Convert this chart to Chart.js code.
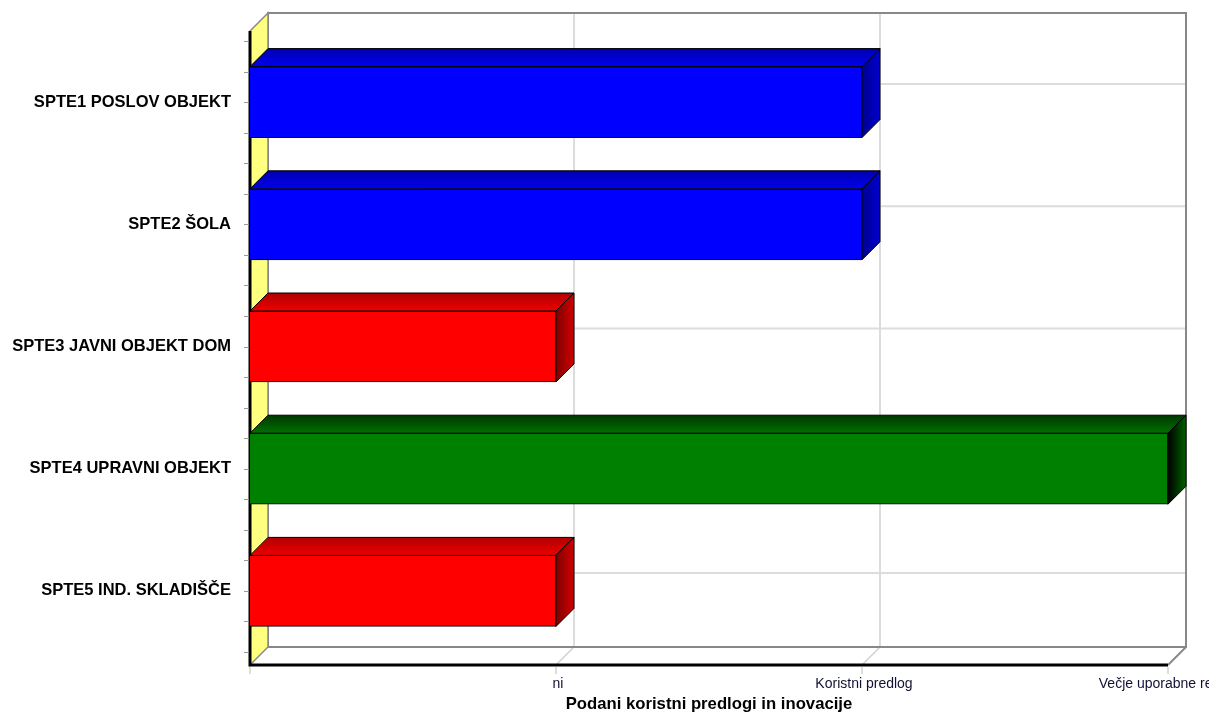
<!DOCTYPE html>
<html lang="sl">
<head>
  <meta charset="UTF-8" />
  <title>Podani koristni predlogi in inovacije</title>
  <style>
    html, body { margin: 0; padding: 0; background: #fff; }
    #chart { display: block; }
  </style>
  <script src="https://cdn.jsdelivr.net/npm/chart.js"></script>
</head>
<body>
  <canvas id="chart" width="1209" height="714"></canvas>
  <script>
    // data
    const categories = ['SPTE1 POSLOV OBJEKT', 'SPTE2 ŠOLA', 'SPTE3 JAVNI OBJEKT DOM', 'SPTE4 UPRAVNI OBJEKT', 'SPTE5 IND. SKLADIŠČE'];
    const values = [2, 2, 1, 3, 1];
    const xTickLabels = ['', 'ni', 'Koristni predlog', 'Večje uporabne rešitve'];
    const xTitle = 'Podani koristni predlogi in inovacije';

    // colours per level (front, top gradient, side gradient)
    const palette = {
      1: { front: '#ff0000', top: ['#b00000', '#ee0000'], side: ['#800000', '#d00000'] },
      2: { front: '#0000ff', top: ['#0000b0', '#0000ee'], side: ['#000090', '#0000d0'] },
      3: { front: '#008000', top: ['#003800', '#007000'], side: ['#000000', '#006000'] }
    };
    const D = 18;        // 3d depth
    const PAD_TOP = 10;  // extra room above first category
    const PAD_BOT = 13;  // extra room below last category
    const FONT = '"Liberation Sans", Arial, sans-serif';

    const threeD = {
      id: 'threeD',
      beforeDatasetsDraw(chart) {
        const ctx = chart.ctx, ca = chart.chartArea;
        const xs = chart.scales.x, ys = chart.scales.y;
        const L = ca.left, R = ca.right;
        const top = ca.top - PAD_TOP, bot = ca.bottom + PAD_BOT;
        ctx.save();

        // back wall
        ctx.fillStyle = '#fff';
        ctx.fillRect(L + D, top - D, R - L, bot - top);
        // grid on the back wall
        ctx.strokeStyle = '#dcdcdc';
        ctx.lineWidth = 2;
        for (let v = 1; v < 3; v++) {
          const px = xs.getPixelForValue(v) + D;
          ctx.beginPath(); ctx.moveTo(px, top - D); ctx.lineTo(px, bot - D); ctx.stroke();
        }
        categories.forEach((c, i) => {
          const py = ys.getPixelForValue(i) - D;
          ctx.beginPath(); ctx.moveTo(L + D, py); ctx.lineTo(R + D, py); ctx.stroke();
        });
        // floor diagonals
        ctx.strokeStyle = '#d0d0d0';
        ctx.lineWidth = 1.5;
        for (let v = 1; v < 3; v++) {
          const px = xs.getPixelForValue(v);
          ctx.beginPath(); ctx.moveTo(px + D, bot - D); ctx.lineTo(px, bot); ctx.stroke();
        }
        // wall frame
        ctx.strokeStyle = '#888';
        ctx.lineWidth = 2;
        ctx.strokeRect(L + D, top - D, R - L, bot - top);
        ctx.beginPath(); ctx.moveTo(R + D, bot - D); ctx.lineTo(R, bot); ctx.stroke();

        // yellow side wall
        ctx.beginPath();
        ctx.moveTo(L, top); ctx.lineTo(L + D, top - D); ctx.lineTo(L + D, bot - D); ctx.lineTo(L, bot);
        ctx.closePath();
        ctx.fillStyle = '#ffff80';
        ctx.fill();
        ctx.strokeStyle = '#888';
        ctx.lineWidth = 1.5;
        ctx.stroke();

        // axes
        ctx.strokeStyle = '#000';
        ctx.lineWidth = 3;
        ctx.beginPath(); ctx.moveTo(L, top); ctx.lineTo(L, bot); ctx.lineTo(R, bot); ctx.stroke();

        // minor ticks on the category axis
        ctx.strokeStyle = '#999';
        ctx.lineWidth = 1;
        const band = (ca.bottom - ca.top) / categories.length;
        for (let k = 0; k <= categories.length * 4; k++) {
          const py = Math.round(ca.top + k * band / 4) + 0.5;
          ctx.beginPath(); ctx.moveTo(L - 6, py); ctx.lineTo(L - 1, py); ctx.stroke();
        }
        // value ticks + labels
        ctx.strokeStyle = '#bbb';
        ctx.fillStyle = '#111133';
        ctx.font = '14px ' + FONT;
        ctx.textAlign = 'center';
        ctx.textBaseline = 'middle';
        xTickLabels.forEach((lab, v) => {
          const px = xs.getPixelForValue(v);
          ctx.beginPath(); ctx.moveTo(px, bot + 2); ctx.lineTo(px, bot + 9); ctx.stroke();
          ctx.fillText(lab, px + 2, bot + 19);
        });
        ctx.fillStyle = '#000';
        ctx.font = 'bold 16.7px ' + FONT;
        ctx.fillText(xTitle, (L + R) / 2, bot + 39);
        ctx.restore();
      },
      afterDatasetsDraw(chart) {
        const ctx = chart.ctx;
        const meta = chart.getDatasetMeta(0);
        ctx.save();
        ctx.strokeStyle = '#000';
        ctx.lineWidth = 1;
        meta.data.forEach((bar, i) => {
          const p = bar.getProps(['x', 'y', 'base', 'height'], true);
          const col = palette[values[i]];
          const t = p.y - p.height / 2, b = p.y + p.height / 2;
          // top face
          let g = ctx.createLinearGradient(0, t - D, 0, t);
          g.addColorStop(0, col.top[0]); g.addColorStop(1, col.top[1]);
          ctx.beginPath();
          ctx.moveTo(p.base, t); ctx.lineTo(p.base + D, t - D); ctx.lineTo(p.x + D, t - D); ctx.lineTo(p.x, t);
          ctx.closePath();
          ctx.fillStyle = g; ctx.fill(); ctx.stroke();
          // side face
          g = ctx.createLinearGradient(p.x, 0, p.x + D, 0);
          g.addColorStop(0, col.side[0]); g.addColorStop(1, col.side[1]);
          ctx.beginPath();
          ctx.moveTo(p.x, t); ctx.lineTo(p.x + D, t - D); ctx.lineTo(p.x + D, b - D); ctx.lineTo(p.x, b);
          ctx.closePath();
          ctx.fillStyle = g; ctx.fill(); ctx.stroke();
        });
        ctx.restore();
      }
    };

    new Chart('chart', {
      type: 'bar',
      data: {
        labels: categories,
        datasets: [{
          data: values,
          backgroundColor: values.map(v => palette[v].front),
          borderColor: '#000',
          borderWidth: 1,
          barThickness: 71
        }]
      },
      options: {
        indexAxis: 'y',
        responsive: false,
        animation: false,
        layout: { padding: { top: 41, right: 41, left: 0, bottom: 0 } },
        plugins: { legend: { display: false }, tooltip: { enabled: false } },
        scales: {
          x: {
            type: 'linear', min: 0, max: 3,
            ticks: { display: false, stepSize: 1 },
            grid: { display: false },
            border: { display: false },
            afterFit(s) { s.height = 62; }
          },
          y: {
            ticks: { color: '#000', padding: 19, font: { family: FONT, size: 16.5, weight: 'bold' } },
            grid: { display: false, drawTicks: false },
            border: { display: false },
            afterFit(s) { s.width = 250; }
          }
        }
      },
      plugins: [threeD]
    });
  </script>
</body>
</html>
